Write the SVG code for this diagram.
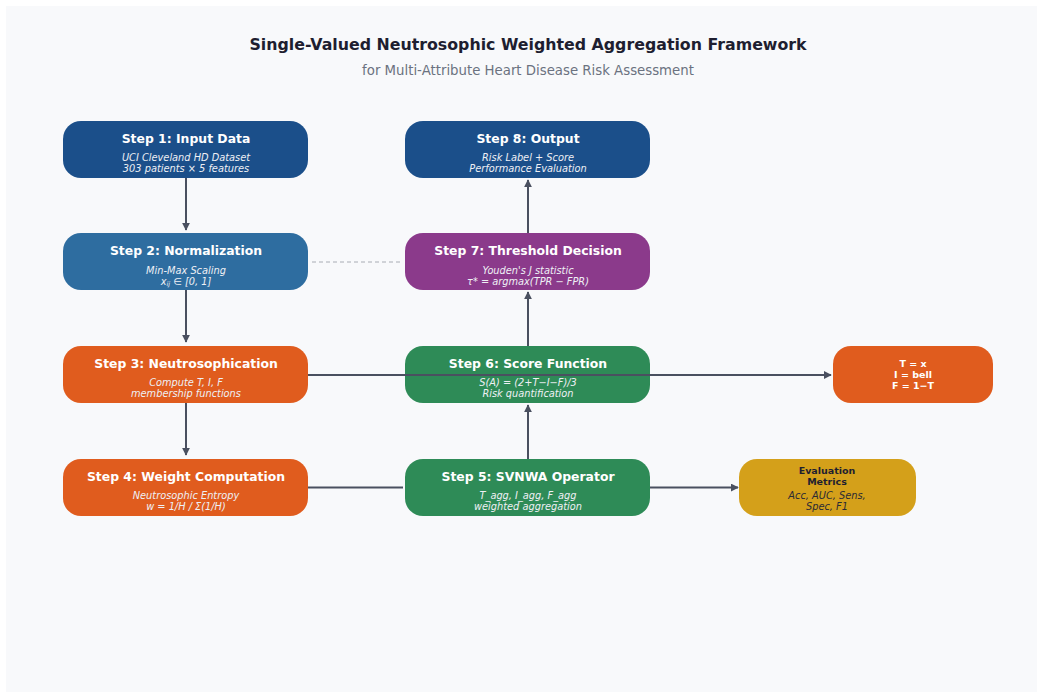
<svg xmlns="http://www.w3.org/2000/svg" width="1038" height="693" viewBox="0 0 1038 693">
<defs>
<marker id="ah" viewBox="0 0 10 10" refX="9" refY="5" markerWidth="4" markerHeight="4" orient="auto" markerUnits="strokeWidth">
<path d="M0,0 L10,5 L0,10 z" fill="#4a5060"/>
</marker>
<style>
.bx{stroke:none}
.t{font-family:"DejaVu Sans",sans-serif;font-weight:bold;font-size:12.4px;fill:#ffffff;text-anchor:middle}
.s{font-family:"DejaVu Sans",sans-serif;font-style:italic;font-size:9.8px;fill:#eef0f5;text-anchor:middle}
.sm{font-family:"DejaVu Sans",sans-serif;font-weight:bold;font-size:9.5px;fill:#ffffff;text-anchor:middle}
.c{stroke:#4a5060;stroke-width:2;fill:none}
</style>
</defs>
<rect x="0" y="0" width="1038" height="693" fill="#ffffff"/>
<rect x="6" y="6" width="1031" height="686" fill="#f8f9fb"/>
<text x="528" y="50" font-family="DejaVu Sans, sans-serif" font-weight="bold" font-size="15.8" fill="#1e1e30" text-anchor="middle">Single-Valued Neutrosophic Weighted Aggregation Framework</text>
<text x="528" y="75" font-family="DejaVu Sans, sans-serif" font-size="13.3" fill="#6b7280" text-anchor="middle">for Multi-Attribute Heart Disease Risk Assessment</text>

<g id="connectors">
<line class="c" x1="186" y1="178" x2="186" y2="230" marker-end="url(#ah)"/>
<line class="c" x1="186" y1="290" x2="186" y2="342" marker-end="url(#ah)"/>
<line class="c" x1="186" y1="403" x2="186" y2="455" marker-end="url(#ah)"/>
<line class="c" x1="308" y1="487.5" x2="403" y2="487.5"/>
<line class="c" x1="528" y1="459" x2="528" y2="405" marker-end="url(#ah)"/>
<line class="c" x1="528" y1="346" x2="528" y2="292" marker-end="url(#ah)"/>
<line class="c" x1="528" y1="233" x2="528" y2="180" marker-end="url(#ah)"/>
<line class="c" x1="650" y1="487.5" x2="738" y2="487.5" marker-end="url(#ah)"/>
<line x1="312" y1="262" x2="402" y2="262" stroke="#a8acb4" stroke-width="1" stroke-dasharray="4,3"/>
</g>

<g id="step1"><rect class="bx" x="63" y="121" width="245" height="57" rx="18" fill="#1b4f8a"/>
<text class="t" x="186" y="143">Step 1: Input Data</text>
<text class="s" x="186" y="161">UCI Cleveland HD Dataset</text>
<text class="s" x="186" y="172">303 patients × 5 features</text></g>

<g id="step8"><rect class="bx" x="405" y="121" width="245" height="57" rx="18" fill="#1b4f8a"/>
<text class="t" x="528" y="143">Step 8: Output</text>
<text class="s" x="528" y="161">Risk Label + Score</text>
<text class="s" x="528" y="172">Performance Evaluation</text></g>

<g id="step2"><rect class="bx" x="63" y="233" width="245" height="57" rx="18" fill="#2e6da0"/>
<text class="t" x="186" y="255">Step 2: Normalization</text>
<text class="s" x="186" y="274">Min-Max Scaling</text>
<text class="s" x="186" y="285">x<tspan font-size="6.5" dy="1">ij</tspan><tspan dy="-1"> ∈ [0, 1]</tspan></text></g>

<g id="step7"><rect class="bx" x="405" y="233" width="245" height="57" rx="18" fill="#8b3a8b"/>
<text class="t" x="528" y="255">Step 7: Threshold Decision</text>
<text class="s" x="528" y="274">Youden's J statistic</text>
<text class="s" x="528" y="285">τ* = argmax(TPR − FPR)</text></g>

<g id="step3"><rect class="bx" x="63" y="346" width="245" height="57" rx="18" fill="#e05c1e"/>
<text class="t" x="186" y="368">Step 3: Neutrosophication</text>
<text class="s" x="186" y="386">Compute T, I, F</text>
<text class="s" x="186" y="397">membership functions</text></g>

<g id="step6"><rect class="bx" x="405" y="346" width="245" height="57" rx="18" fill="#2e8b57"/>
<text class="t" x="528" y="368">Step 6: Score Function</text>
<text class="s" x="528" y="386">S(A) = (2+T−I−F)/3</text>
<text class="s" x="528" y="397">Risk quantification</text></g>

<g id="connector-over"><line class="c" x1="308" y1="375" x2="831" y2="375" marker-end="url(#ah)"/></g>

<g id="tif"><rect class="bx" x="833" y="346" width="160" height="57" rx="18" fill="#e05c1e"/>
<text class="sm" x="913" y="367">T = x</text>
<text class="sm" x="913" y="378">I = bell</text>
<text class="sm" x="913" y="389">F = 1−T</text></g>

<g id="step4"><rect class="bx" x="63" y="459" width="245" height="57" rx="18" fill="#e05c1e"/>
<text class="t" x="186" y="481">Step 4: Weight Computation</text>
<text class="s" x="186" y="499">Neutrosophic Entropy</text>
<text class="s" x="186" y="510">w = 1/H / Σ(1/H)</text></g>

<g id="step5"><rect class="bx" x="405" y="459" width="245" height="57" rx="18" fill="#2e8b57"/>
<text class="t" x="528" y="481">Step 5: SVNWA Operator</text>
<text class="s" x="528" y="499">T_agg, I_agg, F_agg</text>
<text class="s" x="528" y="510">weighted aggregation</text></g>

<g id="eval"><rect class="bx" x="739" y="459" width="177" height="57" rx="18" fill="#d4a01a"/>
<text class="sm" x="827" y="474" style="fill:#1e1e30">Evaluation</text>
<text class="sm" x="827" y="485" style="fill:#1e1e30">Metrics</text>
<text class="s" x="827" y="499" style="fill:#2a2a35">Acc, AUC, Sens,</text>
<text class="s" x="827" y="510" style="fill:#2a2a35">Spec, F1</text></g>
</svg>
